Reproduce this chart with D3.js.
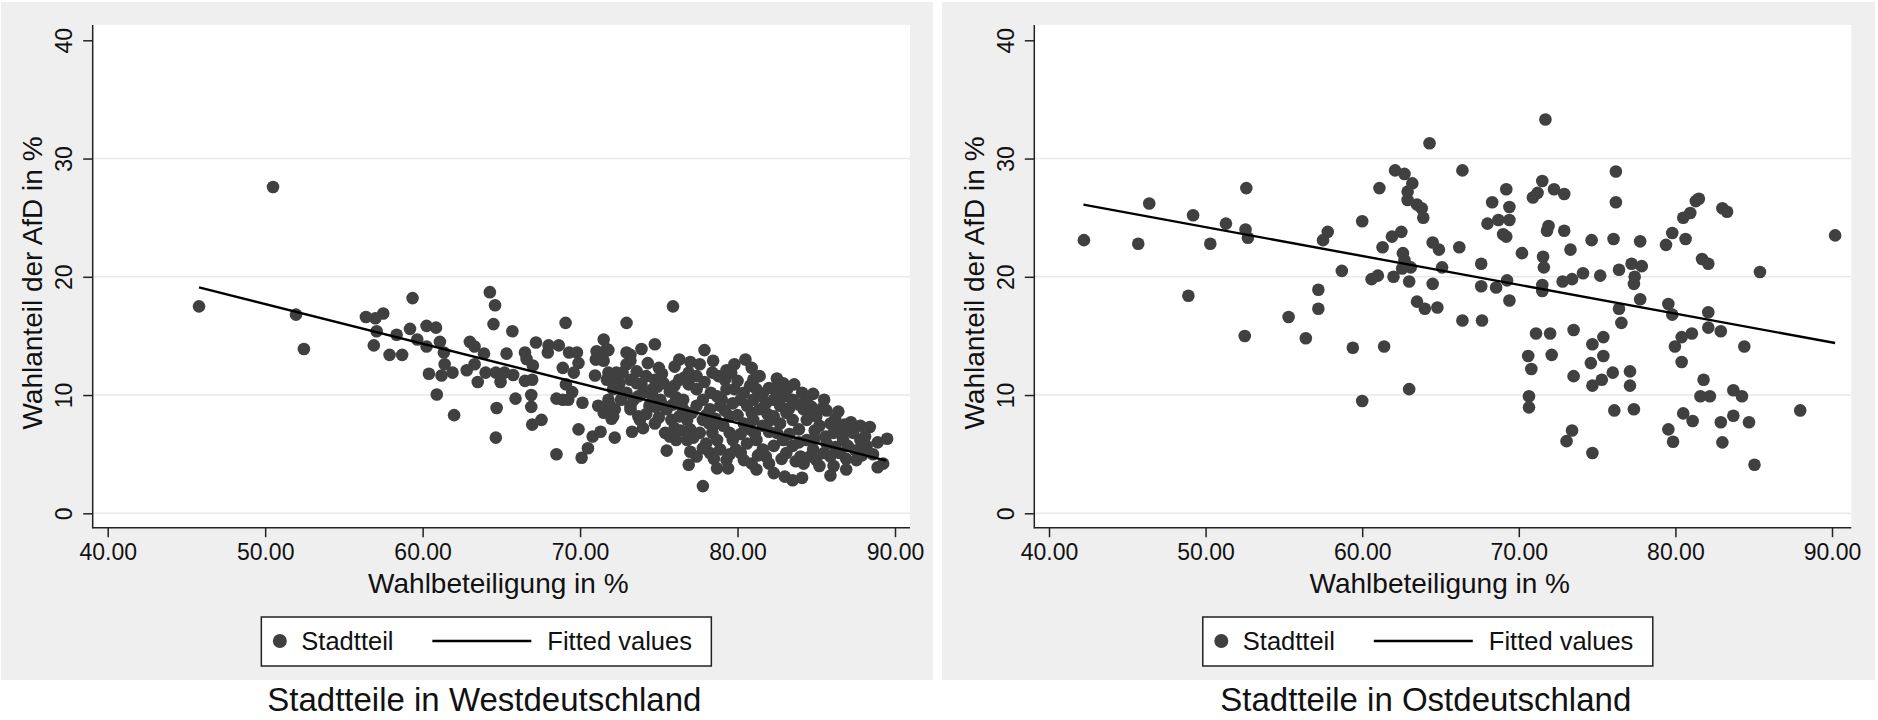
<!DOCTYPE html>
<html>
<head>
<meta charset="utf-8">
<script src="https://cdn.jsdelivr.net/npm/d3@7"></script>
<style>
  body { margin: 0; background: #fff; }
  svg { display: block; font-family: "Liberation Sans", Arial, Helvetica, sans-serif; }
</style>
</head>
<body>
<svg id="chart" width="1878" height="720"></svg>
<script>
// Wahlbeteiligung (x) vs. Wahlanteil AfD (y)
const westPoints = [
  [45.8,17.5],[50.5,27.6],
  [51.96,16.8],[52.46,13.9],[56.4,16.6],[57.0,16.5],[57.5,16.9],[57.08,15.4],[56.9,14.2],[57.9,13.4],
  [58.7,13.4],[58.35,15.1],[59.36,18.2],[59.2,15.6],[59.66,14.7],[60.25,15.85],[60.85,15.7],[60.25,14.1],
  [61.1,14.5],[61.35,13.6],[61.4,12.6],[61.2,11.65],[61.9,11.9],[60.4,11.8],[60.9,10.05],[62.0,8.3],
  [63.0,14.5],[63.3,14.1],[63.9,13.5],[63.3,12.6],[62.8,12.1],[63.5,11.1],[64.27,18.7],[64.6,17.6],
  [64.5,16.0],[64.0,11.9],[64.65,11.9],[64.7,8.9],[64.65,6.4],[65.33,13.5],[65.7,15.4],[65.2,11.9],
  [65.75,11.7],[64.95,11.1],[65.9,9.7],[66.5,13.6],[67.2,14.45],[66.6,13.05],[67.0,12.5],[66.5,11.2],
  [66.96,11.3],[66.9,10.0],[66.9,9.0],[66.96,7.5],[67.55,7.9],[68.0,14.2],[67.95,13.6],[68.65,14.2],
  [69.08,16.1],[69.3,13.6],[69.8,13.6],[69.9,12.7],[68.9,12.3],[69.6,11.9],[69.1,10.9],[69.5,10.25],
  [68.5,9.7],[68.9,9.6],[69.25,9.6],[69.9,7.1],[68.5,5.0],[70.1,4.7],[70.5,5.5],[70.8,6.5],[71.3,6.9],
  [72.2,6.4],[70.15,9.35],[70.95,11.65],[71.5,14.7],[71.05,13.7],[71.8,13.8],[71.0,13.0],[71.3,13.3],
  [71.8,11.9],[72.1,11.1],[71.15,9.1],[71.8,9.6],[72.2,8.8],[72.0,8.0],[72.95,16.1],[73.2,13.4],
  [72.95,12.6],[72.7,11.9],[73.2,11.3],[72.95,10.2],[72.6,9.6],[73.2,9.1],[73.7,9.9],[73.7,8.2],
  [71.7,11.3],[72.1,10.5],[72.7,10.2],[71.9,9.1],[72.1,8.2],[71.5,8.5],[72.3,11.9],[72.5,11.0],
  [73.4,9.6],[73.2,8.8],[73.3,6.9],[73.6,12.0],[73.6,11.0],[73.2,12.9],[72.95,13.6],[71.7,13.9],[71.5,12.9],
  [75.9,17.5],[73.9,13.9],[74.75,14.3],[76.3,13.0],[77.9,13.8],[78.45,12.9],[77.6,12.6],[79.8,12.6],
  [80.5,13.0],[81.0,11.3],[82.0,10.6],[83.15,10.5],[84.1,10.2],[88.4,7.3],[89.5,6.3],[89.25,4.2],
  [88.9,3.9],[86.9,3.7],[87.55,4.5],[86.8,7.5],[86.2,8.0],[85.65,8.7],[84.7,9.0],[77.8,2.3],[75.5,5.3],
  [76.9,4.1],[82.3,3.4],[83.0,3.1],[83.5,2.8],[84.1,3.0],[85.9,3.2],[81.2,3.7],[80.9,4.2],[78.7,3.8],
  [79.4,3.8],[88.1,6.5],
  [74.2,11.6],[74.75,11.3],[75.3,11.0],[75.7,10.3],[76.1,9.8],[74.0,10.2],[74.6,9.9],[74.4,9.1],
  [73.8,7.9],[74.0,7.2],[75.5,8.8],[75.8,7.9],[76.0,7.2],[76.3,11.3],[76.65,11.5],[77.4,11.6],
  [77.4,10.5],[77.8,9.6],[78.25,8.8],[78.7,9.9],[79.2,11.3],[79.3,10.5],[79.8,10.5],[80.2,9.6],
  [80.6,9.1],[81.0,9.6],[81.4,8.8],[81.8,9.3],[82.3,9.6],[82.7,9.1],[83.1,8.5],[83.5,7.9],[84.2,8.8],
  [84.4,7.9],[85.0,8.2],[85.2,7.4],[85.9,7.6],[86.1,6.8],[86.7,6.2],[87.35,6.8],[87.8,6.2],[88.2,5.7],
  [77.0,7.1],[76.8,6.2],[77.0,5.2],[77.4,4.8],[77.6,6.8],[78.0,5.9],[78.25,5.1],[78.7,6.2],[78.9,5.4],
  [79.3,4.5],[79.7,6.2],[79.9,5.4],[80.4,4.5],[80.6,5.9],[81.2,6.2],[81.6,5.4],[81.8,4.8],[82.3,5.7],
  [82.5,6.8],[82.9,6.2],[83.1,5.1],[83.5,5.7],[84.0,4.8],[84.2,4.2],[84.4,6.2],[84.8,5.4],[85.0,4.5],
  [85.2,4.0],[85.65,5.9],[85.9,4.8],[86.1,4.0],[86.5,5.1],[87.0,5.7],[84.4,9.6],[79.1,7.4],[79.5,8.2],
  [80.4,7.6],[81.0,7.9],[81.6,7.4],[82.1,7.9],[82.7,7.6],[80.8,7.1],[79.7,9.3],[80.4,10.2],[81.2,10.5],
  [82.3,10.5],[82.8,10.2],[83.5,9.6],[81.4,11.6],[76.55,9.6],[76.55,8.8],[76.8,7.9],[77.8,7.9],
  [78.45,7.4],[77.4,9.1],[78.9,9.1],[74.9,10.7],[75.1,9.6],[75.3,9.1],[76.3,8.2],[74.2,8.4],[74.75,7.6],
  [75.4,6.8],[76.1,6.2],
  [76.0,10.8],[76.9,10.9],[77.9,11.1],[78.3,10.2],[78.8,11.6],[79.6,11.9],[80.0,11.2],[80.9,12.3],
  [81.6,10.1],[82.5,11.4],[83.0,9.9],[83.9,9.2],[84.6,8.4],[85.4,8.9],[86.3,7.2],[86.8,6.9],[87.5,5.3],
  [88.0,5.2],[86.2,5.6],[85.5,5.1],[84.6,4.8],[83.7,4.4],[82.8,4.6],[82.0,4.2],[81.3,4.9],[80.2,5.1],
  [79.5,5.0],[78.5,4.6],[77.8,5.5],[77.2,6.4],[76.4,7.0],[75.7,6.5],[75.0,8.1],[74.8,9.0],[75.9,9.2],
  [77.1,8.5],[78.0,8.3],[78.6,8.0],[79.2,8.7],[80.0,8.3],[80.9,8.5],[81.9,8.4],[82.3,8.2],[83.3,8.9],
  [83.9,7.1],[84.9,7.0],[85.6,6.5],[83.3,6.7],[82.0,6.9],[81.1,6.7],[80.2,6.7],[79.5,6.8],[78.4,6.8],
  [78.2,7.6],[83.9,6.0],[84.9,6.3],[86.9,4.6],[87.9,4.9],[79.0,9.6],[80.8,10.8],[76.0,12.4],[75.0,12.3],
  [74.3,12.7],[74.6,10.5],[73.9,10.9],[75.2,11.8],[76.9,11.9],[77.0,12.8],[78.4,11.9],[79.3,12.1],
  [81.5,9.9],[82.9,11.0],[83.6,10.9],[84.8,10.1],[85.5,9.6],[86.4,8.6],[87.2,7.7],[87.8,7.4],[88.9,6.0],
  [88.6,5.0]
];

const eastPoints = [
  [42.23,23.1],[45.7,22.8],[46.4,26.2],[48.9,18.4],[49.2,25.2],[50.3,22.8],[51.3,24.5],[52.6,27.5],
  [52.55,24.0],[52.7,23.3],[52.5,15.0],[55.3,16.6],[56.4,14.8],[57.2,18.9],[57.2,17.3],[57.5,23.1],
  [57.8,23.8],[58.7,20.5],[59.4,14.0],[60.0,9.5],[60.0,24.7],[60.6,19.8],[61.0,20.1],[61.1,27.5],
  [61.3,22.5],[61.4,14.1],[61.9,23.4],[62.0,20.0],[62.1,29.0],[62.5,23.8],[62.7,28.7],[62.6,22.0],
  [62.7,21.4],[62.55,20.7],[63.1,20.8],[63.0,19.6],[63.0,10.5],[63.2,27.9],[62.9,27.2],[62.9,26.5],
  [63.5,26.1],[63.8,25.8],[63.9,25.0],[63.5,17.9],[64.0,17.3],[64.8,17.4],[64.3,31.3],[64.5,22.9],
  [64.9,22.3],[64.5,19.4],[65.1,20.8],
  [66.2,22.5],[66.4,29.0],[66.4,16.3],[67.6,21.1],[67.65,16.3],[67.6,19.2],[68.0,24.5],[68.3,26.3],
  [68.55,19.1],[68.7,24.8],[69.2,27.4],[69.4,25.9],[69.4,24.8],[69.0,23.6],[69.2,23.4],[69.25,19.7],
  [69.4,18.0],[70.2,22.0],[70.6,13.3],[70.8,12.2],[70.65,9.9],[70.65,8.96],[71.1,15.2],[70.9,26.7],
  [71.2,27.1],[71.5,28.1],[71.55,21.7],[71.6,20.8],[71.5,19.3],[71.5,18.8],[71.7,33.3],[71.8,23.9],
  [71.9,24.3],[72.0,15.2],[72.1,13.4],[72.25,27.4],[72.8,19.6],[72.9,23.9],[72.9,27.0],[73.3,22.3],
  [73.4,19.8],[73.4,7.0],[73.05,6.1],[73.5,11.6],[73.5,15.5],[74.1,20.3],[74.65,23.1],[74.7,14.3],
  [74.6,12.7],[74.7,10.8],[74.7,5.1],[75.2,20.1],[75.4,14.9],[75.4,13.3],[75.3,11.3],[76.0,11.9],
  [76.05,23.2],[76.2,28.9],[76.2,26.3],[76.1,8.7],[76.4,17.3],[76.4,20.6],[76.55,16.1],[77.1,12.0],
  [77.1,10.8],[77.2,21.1],[77.35,8.8],[77.4,20.0],[77.35,19.4],[77.75,23.0],[77.75,18.1],[77.85,20.9],
  [79.4,22.7],[79.55,17.7],[79.55,7.1],[79.8,16.8],[79.8,23.7],[79.85,6.05],[79.97,14.1],[80.4,14.9],
  [80.5,25.0],[80.4,12.8],[80.5,8.45],[80.65,23.2],[80.95,25.4],[81.05,15.2],[81.1,7.8],[81.3,26.4],
  [81.5,26.6],[81.7,21.5],[82.1,21.1],[81.8,11.3],[81.6,9.9],[82.2,9.9],[82.1,17.0],[82.1,15.7],
  [82.9,15.4],[82.9,7.7],[83.0,25.8],[83.3,25.5],[83.0,6.0],[83.7,10.4],[83.7,8.25],[84.25,9.9],
  [84.4,14.1],[84.7,7.7],[85.05,4.1],[85.4,20.4],[87.97,8.7],[90.2,23.5]
];

// fitted regression lines (end points)
const westFitX = [45.8, 89.45];
const westFitY = [19.1, 4.45];
const eastFitX = [42.2, 90.2];
const eastFitY = [26.1, 14.4];

const xTicks = [40, 50, 60, 70, 80, 90];
const yTicks = [0, 10, 20, 30, 40];
const gridTicks = [0, 10, 20, 30];

const panels = [
  { bgX: 1, bgW: 932, plotX0: 92.7, plotX1: 910, r0: 107.7, r1: 895,
    points: westPoints, fitX: westFitX, fitY: westFitY, title: "Stadtteile in Westdeutschland" },
  { bgX: 942, bgW: 933, plotX0: 1034.3, plotX1: 1851.3, r0: 1049, r1: 1832,
    points: eastPoints, fitX: eastFitX, fitY: eastFitY, title: "Stadtteile in Ostdeutschland" }
];

const plotTop = 25, plotBottom = 527.7;
const svg = d3.select('#chart');
const y = d3.scaleLinear().domain([0, 40]).range([513.3, 40.3]);

panels.forEach(p => {
    const x = d3.scaleLinear().domain([40, 90]).range([p.r0, p.r1]);
    const cx = (p.plotX0 + p.plotX1) / 2;

    // grey background and white plot region
    svg.append('rect').attr('x', p.bgX).attr('y', 2).attr('width', p.bgW).attr('height', 678)
        .attr('fill', '#efefef');
    svg.append('rect').attr('x', p.plotX0).attr('y', plotTop)
        .attr('width', p.plotX1 - p.plotX0).attr('height', plotBottom - plotTop)
        .attr('fill', '#fff');

    // grid lines
    svg.selectAll(null).data(gridTicks).enter().append('line')
        .attr('x1', p.plotX0).attr('x2', p.plotX1)
        .attr('y1', d => y(d)).attr('y2', d => y(d))
        .attr('stroke', '#e9e9e9').attr('stroke-width', 1.5);

    // points
    svg.append('g').selectAll('circle').data(p.points).enter().append('circle')
        .attr('cx', d => x(d[0])).attr('cy', d => y(d[1]))
        .attr('r', 6.3).attr('fill', '#404040');

    // fitted line
    const line = d3.line().x(d => x(d[0])).y(d => y(d[1]));
    svg.append('path').datum(p.fitX.map((v, i) => [v, p.fitY[i]]))
        .attr('d', line).attr('fill', 'none').attr('stroke', '#000').attr('stroke-width', 2.4);

    // axes
    const gx = svg.append('g').attr('transform', `translate(0,${plotBottom})`)
        .call(d3.axisBottom(x).tickValues(xTicks).tickFormat(d3.format('.2f')).tickSize(9.5));
    gx.select('.domain').remove();
    gx.selectAll('line').attr('stroke', '#222').attr('stroke-width', 1.5);
    gx.selectAll('text').attr('y', 32.5).attr('dy', 0)
        .attr('font-size', 23).attr('fill', '#111').attr('font-family', null);

    const gy = svg.append('g').attr('transform', `translate(${p.plotX0},0)`)
        .call(d3.axisLeft(y).tickValues(yTicks).tickSize(9.5));
    gy.select('.domain').remove();
    gy.selectAll('line').attr('stroke', '#222').attr('stroke-width', 1.5);
    gy.selectAll('text').attr('transform', 'rotate(-90)')
        .attr('x', 0).attr('y', -20.7).attr('dy', 0).attr('text-anchor', 'middle')
        .attr('font-size', 23).attr('fill', '#111').attr('font-family', null);

    svg.append('line').attr('x1', p.plotX0).attr('x2', p.plotX0)
        .attr('y1', plotTop).attr('y2', plotBottom + 0.75)
        .attr('stroke', '#222').attr('stroke-width', 1.5);
    svg.append('line').attr('x1', p.plotX0).attr('x2', p.plotX1)
        .attr('y1', plotBottom).attr('y2', plotBottom)
        .attr('stroke', '#222').attr('stroke-width', 1.5);

    // axis titles
    svg.append('text').attr('x', cx - 3).attr('y', 593)
        .attr('text-anchor', 'middle').attr('font-size', 28).attr('fill', '#111')
        .text('Wahlbeteiligung in %');
    svg.append('text')
        .attr('transform', `translate(${p.plotX0 - 50.7},283) rotate(-90)`)
        .attr('text-anchor', 'middle').attr('font-size', 28).attr('fill', '#111')
        .text('Wahlanteil der AfD in %');

    // legend
    const lx = cx - 15 - 225;
    const lg = svg.append('g').attr('transform', `translate(${lx},617)`);
    lg.append('rect').attr('width', 450).attr('height', 49)
        .attr('fill', '#fff').attr('stroke', '#222').attr('stroke-width', 1.5);
    lg.append('circle').attr('cx', 18.5).attr('cy', 24).attr('r', 7).attr('fill', '#404040');
    lg.append('text').attr('x', 40).attr('y', 33).attr('font-size', 25.5).attr('fill', '#111')
        .text('Stadtteil');
    lg.append('line').attr('x1', 171).attr('x2', 270).attr('y1', 24).attr('y2', 24)
        .attr('stroke', '#000').attr('stroke-width', 2.4);
    lg.append('text').attr('x', 286).attr('y', 33).attr('font-size', 25.5).attr('fill', '#111')
        .text('Fitted values');

    // panel caption
    svg.append('text').attr('x', cx - 17).attr('y', 711)
        .attr('text-anchor', 'middle').attr('font-size', 33).attr('fill', '#111')
        .text(p.title);
});
</script>
</body>
</html>
